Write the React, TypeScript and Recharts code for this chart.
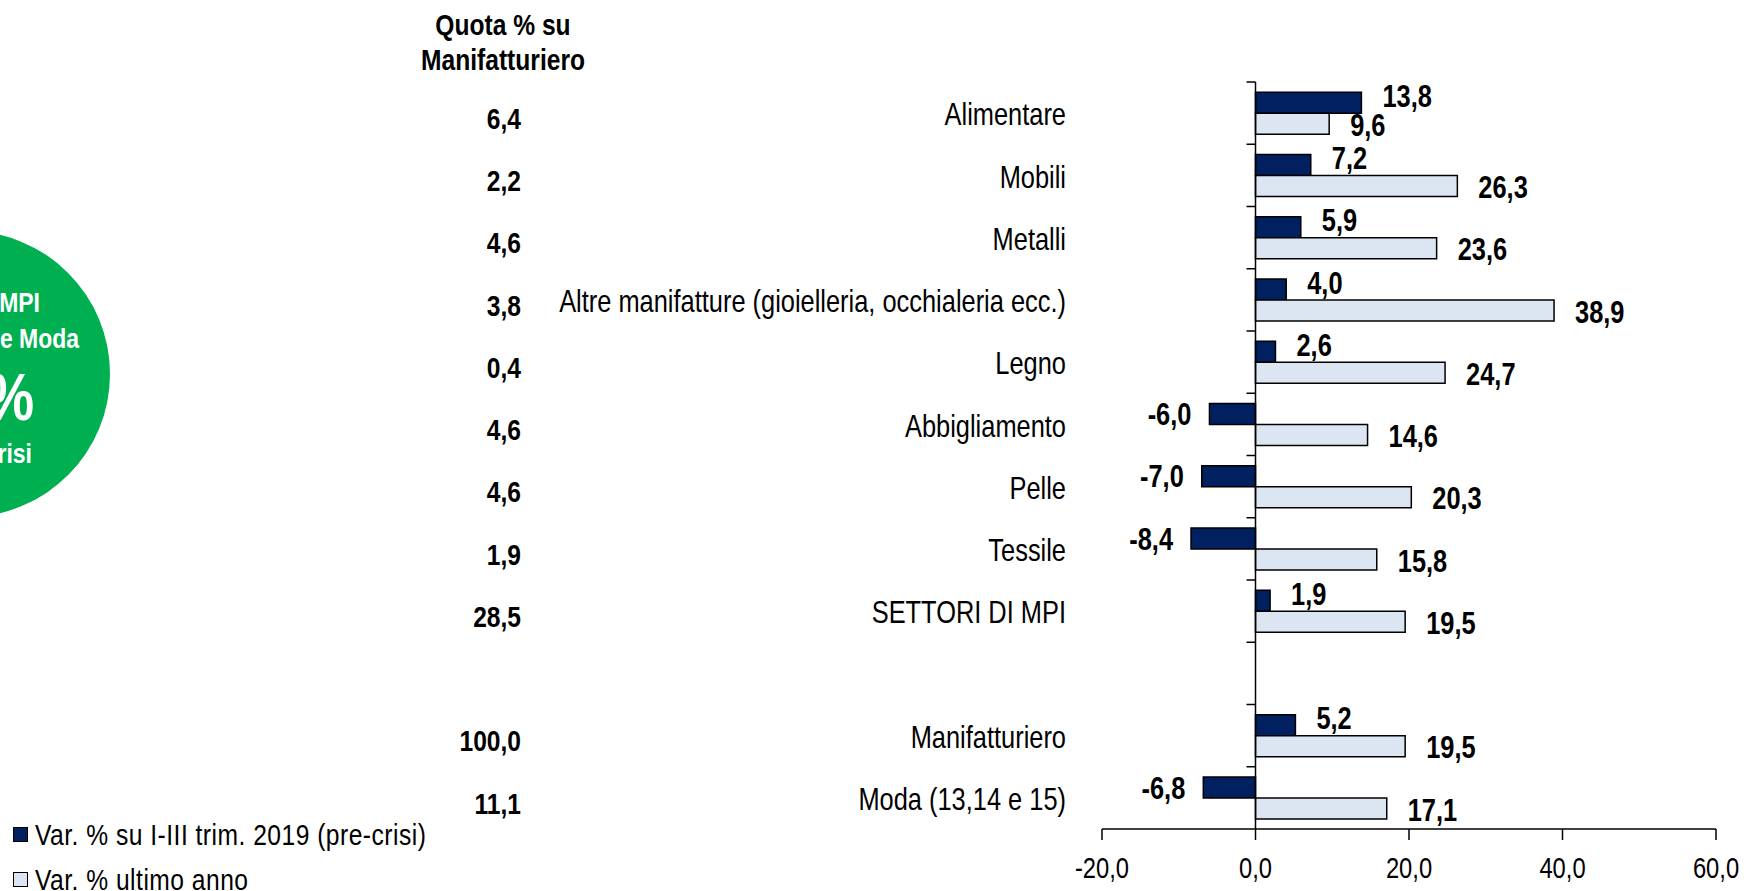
import { BarChart, Bar, XAxis, YAxis, ReferenceLine, LabelList } from "recharts";

// categorie (la riga vuota separa i settori MPI dal totale)
const categories = [
  "Alimentare",
  "Mobili",
  "Metalli",
  "Altre manifatture (gioielleria, occhialeria ecc.)",
  "Legno",
  "Abbigliamento",
  "Pelle",
  "Tessile",
  "SETTORI DI MPI",
  "",
  "Manifatturiero",
  "Moda (13,14 e 15)",
];
const quota = [6.4, 2.2, 4.6, 3.8, 0.4, 4.6, 4.6, 1.9, 28.5, null, 100.0, 11.1];
const preCrisi = [13.8, 7.2, 5.9, 4.0, 2.6, -6.0, -7.0, -8.4, 1.9, null, 5.2, -6.8];
const ultimoAnno = [9.6, 26.3, 23.6, 38.9, 24.7, 14.6, 20.3, 15.8, 19.5, null, 19.5, 17.1];
const xTicks = [-20, 0, 20, 40, 60];

const seriesPre = "Var. % su I-III trim. 2019 (pre-crisi)";
const seriesAnno = "Var. % ultimo anno";
const DARK = "#002060";
const LIGHT = "#DCE6F2";

// niente Arial Narrow: Liberation Sans compressa in orizzontale
const FONT = '"Liberation Sans", Arial, sans-serif';
const NARROW = 0.82;

// geometria del grafico
const W = 1744;
const H = 891;
const PLOT_LEFT = 1102;
const PLOT_RIGHT = 1716;
const PLOT_TOP = 82;
const PLOT_BOTTOM = 829;
const Y_AXIS_W = 200;
const X_AXIS_H = 50;
const BAND = (PLOT_BOTTOM - PLOT_TOP) / categories.length;
const ZERO_X = PLOT_LEFT + ((PLOT_RIGHT - PLOT_LEFT) * (0 - xTicks[0])) / (xTicks[xTicks.length - 1] - xTicks[0]);

const data = categories.map((c, i) => ({
  cat: c,
  quota: quota[i],
  pre: preCrisi[i],
  anno: ultimoAnno[i],
}));

const fmt = (v: number) => v.toFixed(1).replace(".", ",");

function NText({ x, y, anchor = "start", size = 29, bold = false, fill = "#000", dy = "0.36em", children }: any) {
  return (
    <text
      transform={`translate(${x},${y}) scale(${NARROW},1)`}
      textAnchor={anchor}
      dy={dy}
      fontFamily={FONT}
      fontSize={size}
      fontWeight={bold ? "bold" : "normal"}
      fill={fill}
    >
      {children}
    </text>
  );
}

function CatTick(props: any) {
  const { y, payload } = props;
  const i = categories.indexOf(payload.value);
  const q = quota[i];
  return (
    <g>
      <line x1={ZERO_X - 9} x2={ZERO_X} y1={y - BAND / 2} y2={y - BAND / 2} stroke="#000" strokeWidth={1.5} />
      <NText x={1066} y={y + 1} anchor="end" size={31}>
        {payload.value}
      </NText>
      {q != null && (
        <NText x={521} y={y + 5} anchor="end" size={30} bold>
          {fmt(q)}
        </NText>
      )}
    </g>
  );
}

function ValueTick(props: any) {
  const { x, y, payload } = props;
  return (
    <NText x={x} y={y} anchor="middle" size={29} dy="0.71em">
      {fmt(payload.value)}
    </NText>
  );
}

const makeLabel = (dyPos: number) => (props: any) => {
  const { x, y, width, height, value } = props;
  if (value == null) return null;
  const x1 = Number(x);
  const x2 = Number(x) + Number(width);
  const pos = value >= 0;
  const end = pos ? Math.max(x1, x2) : Math.min(x1, x2);
  const tx = pos ? end + 21 : end - 18;
  const cy = Number(y) + Number(height) / 2 + (pos ? dyPos : 0);
  return (
    <NText x={tx} y={cy} anchor={pos ? "start" : "end"} size={31} bold>
      {fmt(value)}
    </NText>
  );
};

export default function App() {
  return (
    <div style={{ position: "absolute", left: 0, top: 0, width: W, height: H, overflow: "hidden", background: "#fff" }}>
      <svg width={220} height={H} style={{ position: "absolute", left: 0, top: 0 }}>
        <circle cx={-33} cy={374} r={143} fill="#00B050" />
        <NText x={40} y={312} anchor="end" size={28} bold fill="#fff" dy={0}>MPI</NText>
        <NText x={79} y={348} anchor="end" size={28} bold fill="#fff" dy={0}>e Moda</NText>
        <NText x={34} y={420} anchor="end" size={66} bold fill="#fff" dy={0}>%</NText>
        <NText x={32} y={463} anchor="end" size={28} bold fill="#fff" dy={0}>crisi</NText>
      </svg>

      <svg width={700} height={80} style={{ position: "absolute", left: 0, top: 0 }}>
        <NText x={503} y={24} anchor="middle" size={30} bold>Quota % su</NText>
        <NText x={503} y={59} anchor="middle" size={30} bold>Manifatturiero</NText>
      </svg>

      <div style={{ position: "absolute", left: 0, top: 0 }}>
        <BarChart
          width={W}
          height={H}
          layout="vertical"
          data={data}
          margin={{ top: PLOT_TOP, right: W - PLOT_RIGHT, bottom: H - PLOT_BOTTOM - X_AXIS_H, left: PLOT_LEFT - Y_AXIS_W }}
          barCategoryGap="16.5%"
          barGap={0}
        >
          <XAxis
            type="number"
            domain={[xTicks[0], xTicks[xTicks.length - 1]]}
            ticks={xTicks}
            height={X_AXIS_H}
            tickSize={11}
            tickMargin={17}
            axisLine={{ stroke: "#000", strokeWidth: 1.5 }}
            tickLine={{ stroke: "#000", strokeWidth: 1.5 }}
            tick={<ValueTick />}
            allowDataOverflow
          />
          <YAxis
            type="category"
            dataKey="cat"
            width={Y_AXIS_W}
            axisLine={false}
            tickLine={false}
            interval={0}
            tick={<CatTick />}
          />
          <Bar dataKey="pre" name={seriesPre} fill={DARK} stroke="#000" strokeWidth={1.5} isAnimationActive={false}>
            <LabelList dataKey="pre" content={makeLabel(-7)} />
          </Bar>
          <Bar dataKey="anno" name={seriesAnno} fill={LIGHT} stroke="#000" strokeWidth={1.5} isAnimationActive={false}>
            <LabelList dataKey="anno" content={makeLabel(1)} />
          </Bar>
          <ReferenceLine x={0} stroke="#000" strokeWidth={1.5} />
        </BarChart>
      </div>

      <div style={{ position: "absolute", left: 0, top: 812, fontFamily: FONT, fontSize: 30, color: "#000" }}>
        {[
          { name: seriesPre, color: DARK },
          { name: seriesAnno, color: LIGHT },
        ].map((s) => (
          <div key={s.name} style={{ display: "flex", alignItems: "center", height: 45, whiteSpace: "nowrap" }}>
            <span
              style={{
                display: "inline-block",
                width: 13,
                height: 13,
                marginLeft: 13,
                marginRight: 7,
                background: s.color,
                border: "1.5px solid #000",
              }}
            />
            <span
              style={{
                display: "inline-block",
                letterSpacing: 0.6,
                transform: `scaleX(${NARROW})`,
                transformOrigin: "left center",
              }}
            >
              {s.name}
            </span>
          </div>
        ))}
      </div>
    </div>
  );
}
